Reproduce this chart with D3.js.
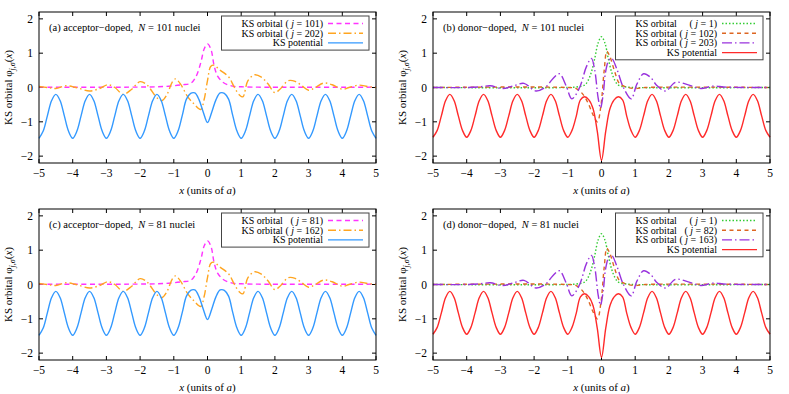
<!DOCTYPE html>
<html>
<head>
<meta charset="utf-8">
<script src="https://cdn.jsdelivr.net/npm/d3@7"></script>
<style>
body { margin: 0; background: #fff; }
</style>
</head>
<body>
<div id="chart"></div>
<script>
var width = 789, height = 394;

var xTicks = [-5, -4, -3, -2, -1, 0, 1, 2, 3, 4, 5];
var yTicks = [-2, -1, 0, 1, 2];

// KS potential, sampled every a/8 from -5 to 5
var potX = d3.range(-5, 5.0001, 0.125);
var potAcceptor = [
  -1.48, -1.27, -0.82, -0.38, -0.20, -0.38, -0.82, -1.27,
  -1.48, -1.27, -0.82, -0.38, -0.20, -0.38, -0.82, -1.27,
  -1.48, -1.27, -0.82, -0.38, -0.20, -0.38, -0.82, -1.27,
  -1.48, -1.27, -0.82, -0.38, -0.20, -0.38, -0.82, -1.27,
  -1.48, -1.27, -0.82, -0.34, -0.17, -0.16, -0.36, -0.72,
  -1.02, -0.72, -0.36, -0.16, -0.17, -0.34, -0.82, -1.27,
  -1.48, -1.27, -0.82, -0.38, -0.20, -0.38, -0.82, -1.27,
  -1.48, -1.27, -0.82, -0.38, -0.20, -0.38, -0.82, -1.27,
  -1.48, -1.27, -0.82, -0.38, -0.20, -0.38, -0.82, -1.27,
  -1.48, -1.27, -0.82, -0.38, -0.20, -0.38, -0.82, -1.27,
  -1.48
];
var potDonor = [
  -1.45, -1.25, -0.82, -0.38, -0.20, -0.38, -0.82, -1.25,
  -1.45, -1.25, -0.82, -0.38, -0.20, -0.38, -0.82, -1.25,
  -1.45, -1.25, -0.82, -0.38, -0.20, -0.38, -0.82, -1.25,
  -1.45, -1.25, -0.82, -0.38, -0.20, -0.38, -0.82, -1.25,
  -1.45, -1.25, -0.84, -0.36, -0.27, -0.36, -0.62, -1.28,
  -2.12, -1.28, -0.62, -0.36, -0.27, -0.36, -0.84, -1.25,
  -1.45, -1.25, -0.82, -0.38, -0.20, -0.38, -0.82, -1.25,
  -1.45, -1.25, -0.82, -0.38, -0.20, -0.38, -0.82, -1.25,
  -1.45, -1.25, -0.82, -0.38, -0.20, -0.38, -0.82, -1.25,
  -1.45, -1.25, -0.82, -0.38, -0.20, -0.38, -0.82, -1.25,
  -1.45
];

// acceptor-doped orbitals
var accLowX = [-5, -1.5, -1.0, -0.75, -0.5, -0.35, -0.2, -0.1, 0, 0.1, 0.2, 0.3, 0.45, 0.6, 0.8, 1.0, 1.5, 5];
var accLowY = [0.01, 0.02, 0.05, 0.08, 0.12, 0.3, 0.72, 1.12, 1.27, 1.12, 0.62, 0.33, 0.16, 0.08, 0.03, 0.02, 0.01, 0.01];
var accHighX = [-5, -4.75, -4.5, -4.2, -3.9, -3.5, -3.2, -2.95, -2.75, -2.5, -2.25, -2.0, -1.8, -1.5, -1.35,
  -1.2, -1.05, -0.95, -0.8, -0.6, -0.4, -0.2, -0.1, 0.0, 0.1, 0.2, 0.35, 0.5, 0.65, 0.8,
  0.95, 1.05, 1.2, 1.4, 1.6, 1.8, 2.0, 2.15, 2.4, 2.6, 2.8, 3.0, 3.2, 3.45, 3.7, 4.0, 4.2, 4.5, 4.75, 5.0];
var accHighY = [0.03, 0.0, -0.03, 0.05, 0.0, -0.1, -0.03, 0.08, 0.0, -0.2, -0.05, 0.17, 0.08, -0.3, -0.38,
  -0.2, 0.15, 0.25, 0.1, -0.25, -0.48, -0.64, -0.35, 0.2, 0.62, 0.65, 0.52, 0.42, 0.28, 0.0,
  -0.22, -0.27, 0.2, 0.37, 0.3, 0.1, -0.15, -0.05, 0.2, 0.18, 0.05, -0.08, 0.0, 0.13, 0.08, -0.05, 0.0, 0.07, 0.03, 0.0];

// donor-doped orbitals
var donGroundX = [-5, -1.0, -0.7, -0.5, -0.4, -0.3, -0.2, -0.1, 0, 0.1, 0.2, 0.3, 0.4, 0.5, 0.7, 1.0, 5];
var donGroundY = [0, 0, 0.02, 0.07, 0.2, 0.45, 0.85, 1.3, 1.48, 1.3, 0.85, 0.45, 0.2, 0.07, 0.02, 0, 0];
var donMidX = [-5, -1.0, -0.75, -0.55, -0.4, -0.25, -0.12, -0.02, 0.08, 0.16, 0.25, 0.38, 0.53, 0.72, 1.0, 1.3, 5];
var donMidY = [0, 0, -0.03, -0.2, -0.45, -0.8, -1.0, -0.55, 0.5, 1.05, 0.9, 0.5, 0.12, 0.02, -0.03, 0, 0];
var donHighX = [-5, -4, -3.6, -3.3, -2.95, -2.6, -2.3, -1.95, -1.65, -1.45, -1.25, -1.05, -0.88, -0.65, -0.45,
  -0.3, -0.2, -0.1, -0.03, 0.05, 0.12, 0.22, 0.3, 0.45, 0.65, 0.88, 1.05, 1.25, 1.45, 1.65,
  1.9, 2.2, 2.6, 2.95, 3.3, 3.7, 5];
var donHighY = [0, 0, 0.02, 0.05, -0.03, 0.05, 0.12, -0.1, 0.02, 0.25, 0.4, 0.05, -0.33, 0.0, 0.6,
  0.85, 0.5, -0.3, -0.6, -0.2, 0.45, 0.8, 0.85, 0.55, 0.0, -0.33, 0.1, 0.4, 0.3, 0.05,
  -0.1, 0.15, 0.07, -0.03, 0.04, 0.01, 0];

var panelTags = ["(a) acceptor\u2212doped,\u00a0 ", "(b) donor\u2212doped,\u00a0 ", "(c) acceptor\u2212doped,\u00a0 ", "(d) donor\u2212doped,\u00a0 "];
var panelNuclei = [101, 101, 81, 81];
var legendJ = [[101, 202], [1, 102, 203], [81, 162], [1, 82, 163]];

var acceptorSeries = [
  { xs: accLowX, ys: accLowY, color: "#ff33ff", dash: "5,3.5" },
  { xs: accHighX, ys: accHighY, color: "#ffa520", dash: "8,3,1.5,3" },
  { xs: potX, ys: potAcceptor, color: "#3399ff", dash: null }
];
var donorSeries = [
  { xs: donGroundX, ys: donGroundY, color: "#33cc33", dash: "1.5,2" },
  { xs: donMidX, ys: donMidY, color: "#dd6622", dash: "4,3.5" },
  { xs: donHighX, ys: donHighY, color: "#9933dd", dash: "10,3,1.5,3" },
  { xs: potX, ys: potDonor, color: "#ff2a2a", dash: null }
];

var plotW = 337, plotH = 151;
var panelPos = [[39, 12], [433, 12], [39, 209], [433, 209]];
var serif = "'Liberation Serif'";

var svg = d3.select("#chart").append("svg")
  .attr("width", width)
  .attr("height", height);

var x = d3.scaleLinear().domain([-5, 5]).range([0, plotW]);
var y = d3.scaleLinear().domain([-2.2, 2.2]).range([plotH, 0]);

var line = d3.line()
  .x(function(d) { return x(d[0]); })
  .y(function(d) { return y(d[1]); })
  .curve(d3.curveCatmullRom.alpha(0.5));

function minus(v) {
  return v < 0 ? "\u2212" + Math.abs(v) : "" + v;
}

function label(parent, size) {
  return parent.append("text")
    .style("font-family", serif)
    .style("font-size", size + "px")
    .attr("fill", "#000");
}

for (var i = 0; i < 4; i++) {
  var g = svg.append("g")
    .attr("transform", "translate(" + panelPos[i][0] + "," + panelPos[i][1] + ")");
  var donor = (i % 2 == 1);
  var series = donor ? donorSeries : acceptorSeries;

  // ticks, inward on all four sides
  xTicks.forEach(function(t) {
    g.append("line").attr("x1", x(t)).attr("x2", x(t)).attr("y1", plotH).attr("y2", plotH - 4)
      .attr("stroke", "#000");
    g.append("line").attr("x1", x(t)).attr("x2", x(t)).attr("y1", 0).attr("y2", 4)
      .attr("stroke", "#000");
    label(g, 11.5).attr("x", x(t)).attr("y", plotH + 14)
      .attr("text-anchor", "middle").text(minus(t));
  });
  yTicks.forEach(function(t) {
    g.append("line").attr("x1", 0).attr("x2", 4).attr("y1", y(t)).attr("y2", y(t))
      .attr("stroke", "#000");
    g.append("line").attr("x1", plotW).attr("x2", plotW - 4).attr("y1", y(t)).attr("y2", y(t))
      .attr("stroke", "#000");
    label(g, 11.5).attr("x", -6).attr("y", y(t)).attr("dy", "0.35em")
      .attr("text-anchor", "end").text(minus(t));
  });

  // curves
  series.forEach(function(s) {
    var pts = s.xs.map(function(v, k) { return [v, s.ys[k]]; });
    g.append("path")
      .attr("d", line(pts))
      .attr("fill", "none")
      .attr("stroke", s.color)
      .attr("stroke-width", 1.4)
      .attr("stroke-dasharray", s.dash);
  });

  // frame
  g.append("rect").attr("width", plotW).attr("height", plotH)
    .attr("fill", "none").attr("stroke", "#000").attr("stroke-width", 1);

  // panel tag
  var tag = label(g, 10.5).attr("x", 10).attr("y", 18.5);
  tag.append("tspan").text(panelTags[i]);
  tag.append("tspan").attr("font-style", "italic").text("N");
  tag.append("tspan").text(" = " + panelNuclei[i] + " nuclei");

  // axis labels
  var xl = label(g, 11).attr("x", plotW / 2).attr("y", plotH + 30.5)
    .attr("text-anchor", "middle");
  xl.append("tspan").attr("font-style", "italic").text("x");
  xl.append("tspan").text(" (units of ");
  xl.append("tspan").attr("font-style", "italic").text("a");
  xl.append("tspan").text(")");

  var yl = label(g, 11)
    .attr("transform", "translate(-27," + (plotH / 2) + ") rotate(-90)")
    .attr("text-anchor", "middle");
  yl.append("tspan").text("KS orbital \u03c6");
  yl.append("tspan").attr("dy", 2.5).style("font-size", "8px").attr("font-style", "italic").text("j");
  yl.append("tspan").style("font-size", "8px").text(",");
  yl.append("tspan").style("font-size", "8px").attr("font-style", "italic").text("\u03c3");
  yl.append("tspan").attr("dy", -2.5).text("(");
  yl.append("tspan").attr("font-style", "italic").text("x");
  yl.append("tspan").text(")");

  // legend
  var js = legendJ[i];
  var rows = js.length + 1;
  var boxRight = plotW - 7, boxTop = 4, rowH = 9.7;
  var textRight = boxRight - 46;
  var lg = g.append("g");
  var box = lg.append("rect").attr("y", boxTop).attr("height", rows * rowH + 5)
    .attr("fill", "#fff").attr("stroke", "#444").attr("stroke-width", 1);
  var parens = [];
  js.forEach(function(j, k) {
    var t = label(lg, 10).attr("x", textRight).attr("y", boxTop + 7.5 + k * rowH)
      .attr("dy", "0.35em").attr("text-anchor", "end");
    t.append("tspan").text("( ");
    t.append("tspan").attr("font-style", "italic").text("j");
    t.append("tspan").text(" = " + j + ")");
    parens.push(t);
  });
  var maxParen = d3.max(parens, function(t) { return t.node().getComputedTextLength(); });
  var labelWidth = 0;
  js.forEach(function(j, k) {
    var t = label(lg, 10).attr("x", textRight - maxParen - 2.5).attr("y", boxTop + 7.5 + k * rowH)
      .attr("dy", "0.35em").attr("text-anchor", "end")
      .text("KS orbital");
    labelWidth = t.node().getComputedTextLength();
  });
  label(lg, 10).attr("x", textRight).attr("y", boxTop + 7.5 + js.length * rowH)
    .attr("dy", "0.35em").attr("text-anchor", "end")
    .text("KS potential");
  var boxLeft = textRight - maxParen - 2.5 - labelWidth - 20;
  box.attr("x", boxLeft).attr("width", boxRight - boxLeft);

  series.forEach(function(s, k) {
    lg.append("line")
      .attr("x1", boxRight - 41).attr("x2", boxRight - 6)
      .attr("y1", boxTop + 7.5 + k * rowH).attr("y2", boxTop + 7.5 + k * rowH)
      .attr("stroke", s.color).attr("stroke-width", 1.4)
      .attr("stroke-dasharray", s.dash);
  });
}
</script>
</body>
</html>
